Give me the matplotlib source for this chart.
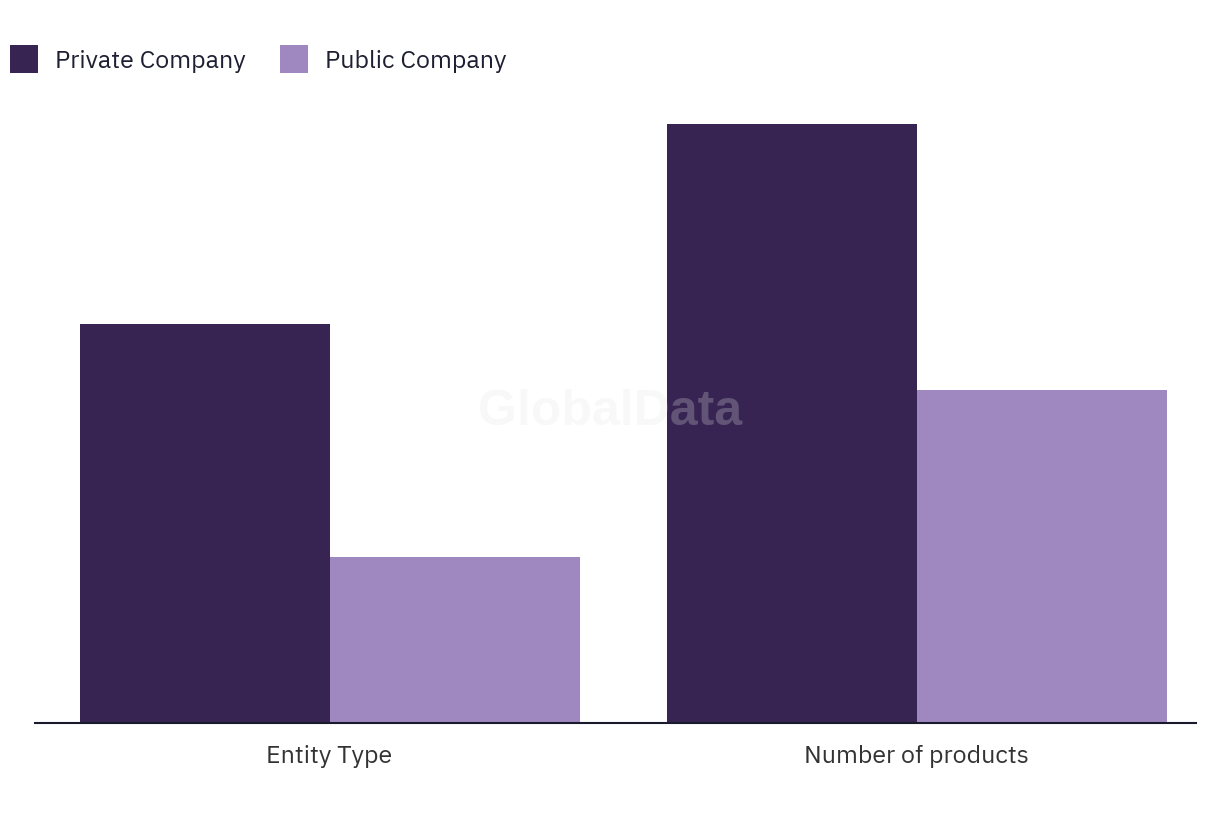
import matplotlib
matplotlib.use("Agg")
import matplotlib.pyplot as plt
import numpy as np

categories = ["Entity Type", "Number of products"]
private_values = [12, 18]
public_values = [5, 10]
series_names = ["Private Company", "Public Company"]
colors = ["#372452", "#9f87c0"]

plt.rcParams['font.family'] = ['IBM Plex Sans', 'Inter', 'DejaVu Sans']

fig = plt.figure(figsize=(12.2, 8.2), dpi=100)
ax = fig.add_axes([35 / 1220, 96 / 820, 1161 / 1220, 599 / 820])

x = np.arange(len(categories))
w = 250 / 587
ax.bar(x - w / 2, private_values, width=w, color=colors[0], label=series_names[0])
ax.bar(x + w / 2, public_values, width=w, color=colors[1], label=series_names[1])

ax.set_xlim(-0.5017, 1.476)
ax.set_ylim(0, 18)
ax.set_xticks(x)
ax.set_xticklabels(categories, fontsize=18, color="#333333")
ax.tick_params(axis='x', length=0, pad=15)
ax.set_yticks([])
for s in ["top", "left", "right"]:
    ax.spines[s].set_visible(False)
ax.spines["bottom"].set_color("#1a1a2e")
ax.spines["bottom"].set_linewidth(1.5)

# watermark
fig.text(610 / 1220, 1 - 412 / 820, "GlobalData", fontsize=36, fontweight='bold',
         family='Liberation Sans', color="#e6e6e6", alpha=0.25,
         ha='center', va='center')

fig.legend(loc='upper left', bbox_to_anchor=(10 / 1220, 1 - 46 / 820), ncol=2,
           frameon=False, fontsize=18, handlelength=1.12, handleheight=1.35,
           handletextpad=0.68, columnspacing=1.36, borderpad=0, borderaxespad=0,
           labelcolor="#1f1f33")

fig.savefig("out.png", dpi=100)
